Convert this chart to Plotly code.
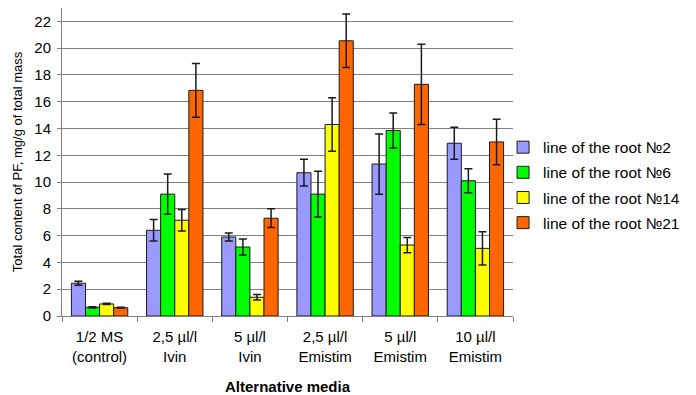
import plotly.graph_objects as go

categories = ["1/2 MS<br>(control)", "2,5 µl/l<br>Ivin", "5 µl/l<br>Ivin",
              "2,5 µl/l<br>Emistim", "5 µl/l<br>Emistim", "10 µl/l<br>Emistim"]
series_names = ["line of the root №2", "line of the root №6",
                "line of the root №14", "line of the root №21"]
root2 = [2.45, 6.4, 5.9, 10.7, 11.35, 12.9]
root2_err = [0.15, 0.8, 0.3, 1.0, 2.25, 1.2]
root6 = [0.65, 9.1, 5.15, 9.1, 13.85, 10.1]
root6_err = [0.05, 1.5, 0.6, 1.7, 1.3, 0.9]
root14 = [0.9, 7.15, 1.4, 14.3, 5.3, 5.05]
root14_err = [0.05, 0.8, 0.2, 2.0, 0.57, 1.25]
root21 = [0.62, 16.85, 7.3, 20.55, 17.3, 13.0]
root21_err = [0.03, 2.0, 0.7, 2.0, 3.0, 1.7]
colors = ["#9999FF", "#00FF00", "#FFFF00", "#FF6600"]
y_ticks = list(range(0, 23, 2))

FONT = "Arial, Liberation Sans, sans-serif"

fig = go.Figure()
for i, (name, vals, errs) in enumerate(zip(series_names, [root2, root6, root14, root21],
                                           [root2_err, root6_err, root14_err, root21_err])):
    fig.add_trace(go.Bar(
        x=categories, y=vals, name=name, legendgroup=name,
        marker=dict(color=colors[i], line=dict(color="#1a1a1a", width=1)),
        error_y=dict(type="data", array=errs, visible=True, color="#1a1a1a",
                     thickness=1.5, width=4),
    ))

fig.update_layout(
    width=696, height=395,
    margin=dict(l=62, r=183, t=8, b=79),
    paper_bgcolor="white", plot_bgcolor="white",
    barmode="group", bargap=0.25, bargroupgap=0,
    font=dict(family=FONT, size=14, color="black"),
    showlegend=True,
    legend=dict(x=0.978, y=0.425, xanchor="left", yanchor="middle",
                font=dict(size=15.5, family=FONT), tracegroupgap=2,
                itemwidth=30, bgcolor="rgba(0,0,0,0)"),
    xaxis=dict(
        showline=True, linecolor="#808080", linewidth=1,
        ticks="outside", tickson="boundaries", ticklen=5, tickcolor="#808080",
        tickfont=dict(size=15), showgrid=False, ticklabelstandoff=7,
        automargin=False,
        title=dict(text="<b>Alternative media</b>", font=dict(size=15), standoff=18),
    ),
    yaxis=dict(
        range=[0, 23], tickvals=y_ticks, showline=True, linecolor="#808080", linewidth=1,
        ticks="outside", ticklen=4, tickcolor="#808080",
        showgrid=True, gridcolor="#808080", gridwidth=1,
        tickfont=dict(size=15), zeroline=False, automargin=False, ticklabelstandoff=3,
        title=dict(text="Total content of PF, mg/g of total mass", font=dict(size=13), standoff=8),
    ),
)

fig.write_html("out.html")
